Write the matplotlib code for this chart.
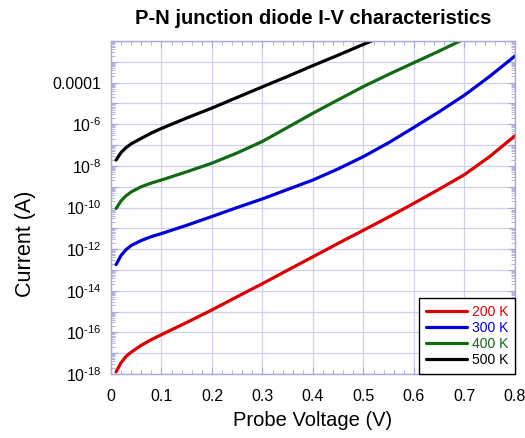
import math
import matplotlib
matplotlib.use("Agg")
import matplotlib.pyplot as plt
from matplotlib.ticker import FixedLocator, FuncFormatter, LogLocator, MultipleLocator, NullFormatter

plt.rcParams['font.family'] = ['Liberation Sans', 'DejaVu Sans']
plt.rcParams['mathtext.fontset'] = 'custom'
plt.rcParams['mathtext.rm'] = 'Liberation Sans'
plt.rcParams['mathtext.it'] = 'Liberation Sans:italic'
plt.rcParams['mathtext.bf'] = 'Liberation Sans:bold'

# probe voltage sweep (V)
voltage = [0.01, 0.02, 0.03, 0.04, 0.06, 0.08, 0.1, 0.15, 0.2, 0.25, 0.3,
           0.35, 0.4, 0.45, 0.5, 0.55, 0.6, 0.65, 0.7, 0.75, 0.8]

# diode current (A) at each temperature
current_200k = [1.26e-18, 3.5e-18, 7.1e-18, 1.12e-17, 2.4e-17, 4.5e-17, 7.8e-17,
                3.0e-16, 1.2e-15, 5.2e-15, 2.2e-14, 9.8e-14, 4.3e-13, 1.9e-12,
                8.1e-12, 3.5e-11, 1.6e-10, 7.6e-10, 3.8e-9, 2.8e-8, 2.8e-7]
current_300k = [1.8e-13, 5.0e-13, 9.5e-13, 1.5e-12, 2.6e-12, 4.0e-12, 5.6e-12,
                1.4e-11, 3.7e-11, 1.0e-10, 2.6e-10, 7.4e-10, 2.1e-9, 7.2e-9,
                2.8e-8, 1.3e-7, 7.1e-7, 4.0e-6, 2.5e-5, 2.0e-4, 1.9e-3]
current_400k = [8.9e-11, 2.1e-10, 3.7e-10, 5.6e-10, 1.0e-9, 1.5e-9, 2.1e-9,
                5.2e-9, 1.35e-8, 4.2e-8, 1.5e-7, 7.1e-7, 3.4e-6, 1.5e-5,
                6.5e-5, 2.5e-4, 9.1e-4, 3.3e-3, 1.26e-2]
current_500k = [1.9e-8, 4.4e-8, 7.6e-8, 1.15e-7, 2.1e-7, 3.8e-7, 6.3e-7,
                2.0e-6, 6.0e-6, 1.95e-5, 6.3e-5, 2.0e-4, 6.6e-4, 2.1e-3,
                6.9e-3, 2.2e-2]

labels = ['200 K', '300 K', '400 K', '500 K']
colors = ['#dd0000', '#0000dd', '#126b12', '#000000']

axis_blue = '#a8a8dc'
grid_blue = '#cfcff0'

fig = plt.figure(figsize=(5.25, 4.38), dpi=100)
ax = fig.add_axes([0.2114, 0.1461, 0.7695, 0.7603])

for cur, lab, col in zip([current_200k, current_300k, current_400k, current_500k], labels, colors):
    ax.plot(voltage[:len(cur)], cur, color=col, lw=2.3, label=lab, solid_capstyle='round')

ax.set_yscale('log')
ax.set_xlim(0, 0.8)
ax.set_ylim(1e-18, 1e-2)

ax.xaxis.set_major_locator(MultipleLocator(0.1))
ax.xaxis.set_minor_locator(MultipleLocator(0.02))
ax.xaxis.set_major_formatter(FuncFormatter(lambda v, p: '0' if abs(v) < 1e-9 else f'{v:.1f}'))

decades = [10.0 ** k for k in range(-18, -1)]
ax.yaxis.set_major_locator(FixedLocator(decades))
ax.yaxis.set_minor_locator(LogLocator(base=10, subs=range(2, 10), numticks=40))
ax.yaxis.set_minor_formatter(NullFormatter())


def ylabel_fmt(v, pos):
    k = int(round(math.log10(v)))
    if k == -4:
        return '0.0001'
    if k % 2 or k > -4:
        return ''
    return r'$10^{\text{-}%d}$' % -k


ax.yaxis.set_major_formatter(FuncFormatter(ylabel_fmt))

ax.grid(True, which='major', color=grid_blue, lw=0.9)
ax.set_axisbelow(True)
for s in ax.spines.values():
    s.set_color(axis_blue)
    s.set_linewidth(1.0)
ax.tick_params(which='both', direction='in', top=True, right=True, color=axis_blue,
               labelsize=11.5, labelcolor='black')
ax.tick_params(which='major', length=5)
ax.tick_params(which='minor', length=3)
ax.tick_params(axis='x', which='major', pad=10.5)
ax.tick_params(axis='y', which='major', pad=7)

ax.set_xlabel('Probe Voltage (V)', fontsize=14.5, labelpad=5)
ax.set_ylabel('Current (A)', fontsize=15.5)
ax.yaxis.set_label_coords(-0.186, 0.39)
ax.set_title('P-N junction diode I-V characteristics', fontsize=14.5, fontweight='bold', pad=12)

leg = ax.legend(loc='lower right', fontsize=10, frameon=True, fancybox=False,
                edgecolor='black', framealpha=1, borderaxespad=0, handlelength=3,
                labelcolor='linecolor', labelspacing=0.15, handletextpad=0.3,
                borderpad=0.5)
leg.get_frame().set_linewidth(1.0)

fig.savefig('out.png', dpi=100)
